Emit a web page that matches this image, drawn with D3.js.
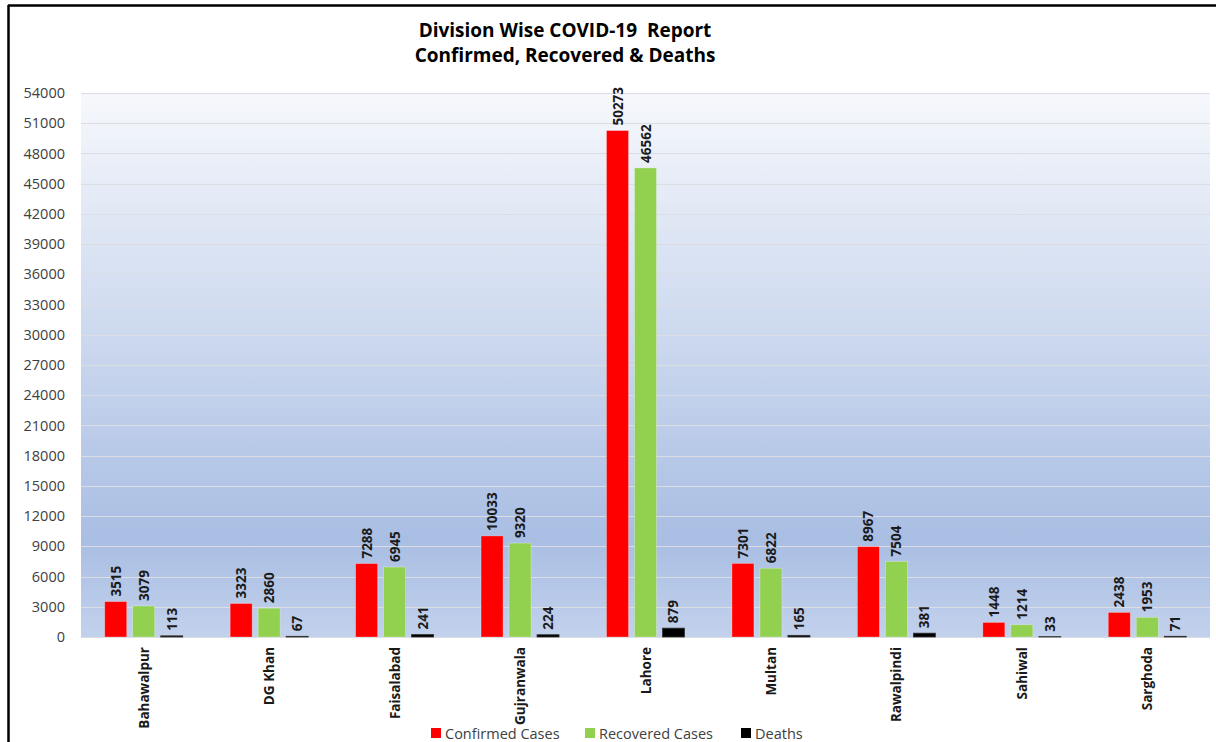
<!DOCTYPE html>
<html>
<head>
<meta charset="utf-8">
<script src="https://cdn.jsdelivr.net/npm/d3@7"></script>
<style>
  body { margin: 0; background: #fff; }
  svg { display: block; font-family: "Open Sans", "Noto Sans", sans-serif; }
</style>
</head>
<body>
<script>
const w = 1216;
const h = 742;

// data
const divisions = ["Bahawalpur", "DG Khan", "Faisalabad", "Gujranwala", "Lahore", "Multan", "Rawalpindi", "Sahiwal", "Sarghoda"];
const confirmed = [3515, 3323, 7288, 10033, 50273, 7301, 8967, 1448, 2438];
const recovered = [3079, 2860, 6945, 9320, 46562, 6822, 7504, 1214, 1953];
const deaths = [113, 67, 241, 224, 879, 165, 381, 33, 71];
const seriesNames = ["Confirmed Cases", "Recovered Cases", "Deaths"];
const yTicks = d3.range(0, 54001, 3000);

const colors = ["#ff0000", "#92d050", "#000000"];
const seriesValues = [confirmed, recovered, deaths];

const margin = { left: 81, right: 6, top: 93, bottom: 105 };

const svg = d3.select("body").append("svg").attr("width", w).attr("height", h);

// outer frame (top and left only visible)
svg.append("line").attr("x1", 8).attr("x2", w).attr("y1", 5.5).attr("y2", 5.5)
  .attr("stroke", "#000").attr("stroke-width", 2.5);
svg.append("line").attr("x1", 8.5).attr("x2", 8.5).attr("y1", 5).attr("y2", h)
  .attr("stroke", "#000").attr("stroke-width", 2.5);

const x0 = d3.scaleBand()
  .domain(divisions)
  .range([margin.left, w - margin.right]);

const x1 = d3.scaleBand()
  .domain(seriesNames)
  .range([0, 78])
  .paddingInner(0.214);

const y = d3.scaleLinear()
  .domain([0, 54000])
  .range([h - margin.bottom, margin.top]);

/* plot background gradient */
const defs = svg.append("defs");
const grad = defs.append("linearGradient").attr("id", "bg")
  .attr("x1", 0).attr("y1", 0).attr("x2", 0).attr("y2", 1);
grad.append("stop").attr("offset", "0%").attr("stop-color", "#f6f8fc");
grad.append("stop").attr("offset", "82%").attr("stop-color", "#a9bee3");
grad.append("stop").attr("offset", "100%").attr("stop-color", "#c2d1ec");

svg.append("rect")
  .attr("x", margin.left)
  .attr("y", y(54000))
  .attr("width", w - margin.right - margin.left)
  .attr("height", y(0) - y(54000))
  .attr("fill", "url(#bg)");

// gridlines
svg.append("g")
  .selectAll("line")
  .data(yTicks)
  .enter()
  .append("line")
  .attr("x1", margin.left)
  .attr("x2", w - margin.right)
  .attr("y1", (d) => Math.round(y(d)) + 0.5)
  .attr("y2", (d) => Math.round(y(d)) + 0.5)
  .attr("stroke", "#dcdde3")
  .attr("stroke-width", 1.2);

// y axis labels
const yAxis = d3.axisLeft(y).tickValues(yTicks).tickFormat(d3.format("d")).tickSize(0).tickPadding(0);
const yG = svg.append("g")
  .attr("transform", `translate(65, 0)`)
  .call(yAxis);
yG.select(".domain").remove();
yG.selectAll("text")
  .attr("font-family", "'Open Sans', sans-serif")
  .attr("font-size", 14.5)
  .attr("fill", "#404040");

/* Bars */
const groups = svg.append("g")
  .selectAll("g")
  .data(divisions)
  .enter()
  .append("g")
  .attr("transform", (d) => `translate(${x0(d) + x0.bandwidth() / 2 - 39}, 0)`);

seriesNames.forEach((s, si) => {
  groups.append("rect")
    .attr("x", x1(s))
    .attr("y", (d, i) => y(seriesValues[si][i]))
    .attr("width", x1.bandwidth())
    .attr("height", (d, i) => y(0) - y(seriesValues[si][i]))
    .attr("fill", colors[si])
    .attr("stroke", si === 2 ? "#333" : "rgba(255,255,255,0.35)")
    .attr("stroke-width", 0.8);

  groups.append("text")
    .attr("transform", (d, i) =>
      `translate(${x1(s) + x1.bandwidth() / 2 + 5}, ${y(seriesValues[si][i]) - 5}) rotate(-90)`)
    .attr("font-size", 13.5)
    .attr("font-weight", "bold")
    .attr("fill", "#1a1a1a")
    .text((d, i) => seriesValues[si][i]);
});

// category labels
svg.append("g")
  .selectAll("text")
  .data(divisions)
  .enter()
  .append("text")
  .attr("transform", (d) => `translate(${x0(d) + x0.bandwidth() / 2 + 5}, 647) rotate(-90)`)
  .attr("text-anchor", "end")
  .attr("font-size", 13.5)
  .attr("font-weight", "bold")
  .attr("fill", "#1a1a1a")
  .text((d) => d);

// title
const title = svg.append("text")
  .attr("x", 565)
  .attr("text-anchor", "middle")
  .attr("font-size", 19)
  .attr("font-weight", "bold")
  .attr("fill", "#000");
title.append("tspan").attr("x", 565).attr("y", 37).text("Division Wise COVID-19\u00a0\u00a0Report");
title.append("tspan").attr("x", 565).attr("y", 62).text("Confirmed, Recovered & Deaths");

/* Legend */
const legendX = [431, 585, 741];
const legend = svg.append("g")
  .selectAll("g")
  .data(seriesNames)
  .enter()
  .append("g")
  .attr("transform", (d, i) => `translate(${legendX[i]}, 728)`);
legend.append("rect")
  .attr("width", 10)
  .attr("height", 10)
  .attr("fill", (d, i) => colors[i]);
legend.append("text")
  .attr("x", 14)
  .attr("y", 10.5)
  .attr("font-size", 14.5)
  .attr("fill", "#404040")
  .text((d) => d);
</script>
</body>
</html>
